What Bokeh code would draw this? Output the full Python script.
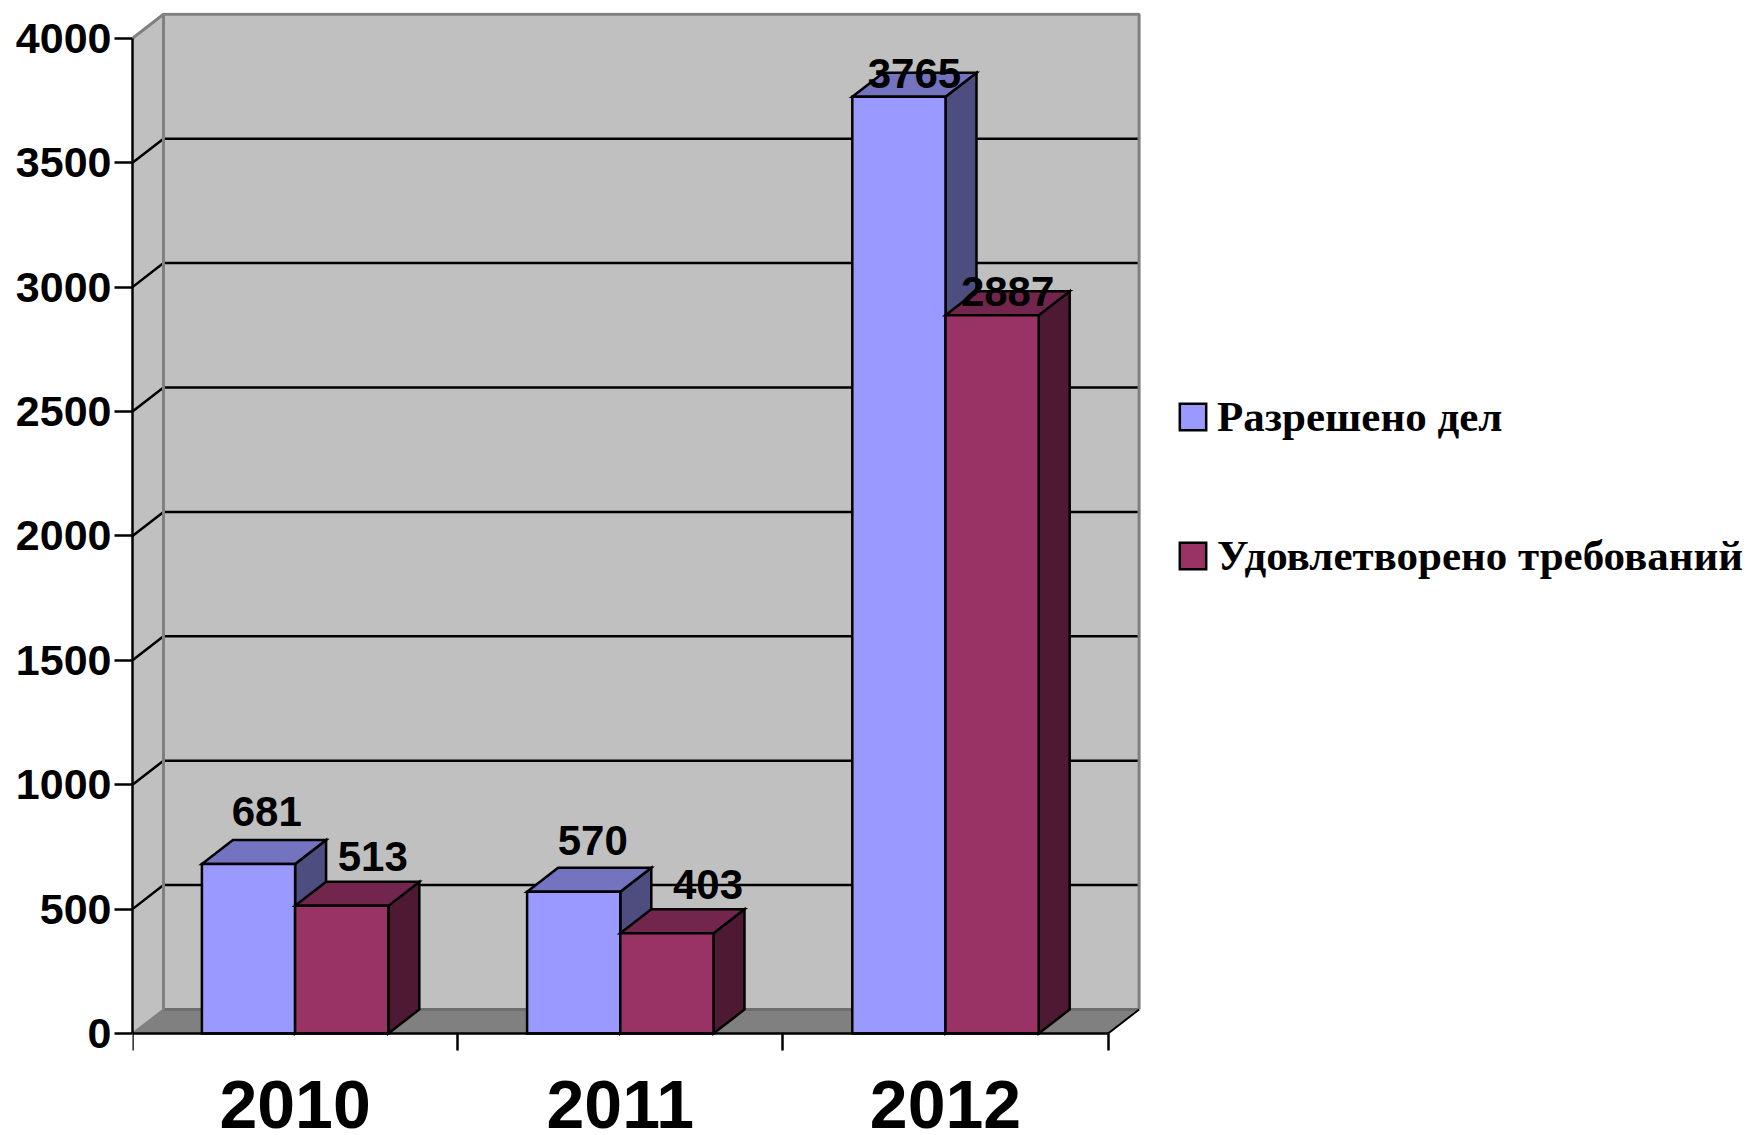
from bokeh.plotting import figure
from bokeh.embed import file_html
from bokeh.resources import INLINE
from bokeh.models import Range1d, FixedTicker, Legend, LegendItem, ColumnDataSource
from bokeh.core.properties import value

years = ["2010", "2011", "2012"]
resolved = [681, 570, 3765]
satisfied = [513, 403, 2887]
y_ticks = [0, 500, 1000, 1500, 2000, 2500, 3000, 3500, 4000]
grid_values = [500, 1000, 1500, 2000, 2500, 3000, 3500]
series_names = ["Разрешено дел", "Удовлетворено требований"]

# style constants
PX_X = 325.2
PX_Y = 0.2488
DX = 31.0 / PX_X
DY = 24.0 / PX_Y
BAR_W = 93.2 / PX_X
GAP = (1 - 2 * BAR_W) / 2
LW = 2.5
SERIF = "Liberation Serif"
SANS = "Liberation Sans"
BASE_FIX = -14.5

p = figure(width=1751, height=1135, output_backend="svg", toolbar_location=None,
           x_range=Range1d(0, 1009 / PX_X),
           y_range=Range1d(-(1135 - 1033) / PX_Y, (1033 - 12) / PX_Y),
           frame_width=1009, frame_height=1123,
           min_border_left=132, min_border_right=0, min_border_top=12, min_border_bottom=0,
           outline_line_color=None, background_fill_color="white")
p.grid.visible = False

top_v = 4000
p.patch([0, DX, DX, 0], [0, DY, top_v + DY, top_v], fill_color="#C0C0C0", line_color=None)
p.patch([DX, 3 + DX, 3 + DX, DX], [DY, DY, top_v + DY, top_v + DY], fill_color="#C0C0C0", line_color=None)
p.patch([0, 3, 3 + DX, DX], [0, 0, DY, DY], fill_color="#808080", line_color=None)

p.multi_line([[0, DX, 3 + DX] for _ in grid_values],
             [[v, v + DY, v + DY] for v in grid_values], line_color="black", line_width=LW)
p.line([DX, 3 + DX], [DY, DY], line_color="#6E6E6E", line_width=3)
p.line([0, DX], [0, DY], line_color="#808080", line_width=2)
p.line([DX, DX], [DY, top_v + DY], line_color="#808080", line_width=3)
p.line([0, DX, 3 + DX, 3 + DX], [top_v, top_v + DY, top_v + DY, DY], line_color="#808080", line_width=3)
p.line([3, 3 + DX], [0, DY], line_color="black", line_width=2)


def bars(vals, offset, front, side, top):
    lefts = [i + GAP + offset * BAR_W for i in range(len(vals))]
    rights = [l + BAR_W for l in lefts]
    p.patches([[r, r + DX, r + DX, r] for r in rights],
              [[0, DY, v + DY, v] for v in vals],
              fill_color=side, line_color="black", line_width=LW, line_join="miter")
    p.patches([[l, r, r + DX, l + DX] for l, r in zip(lefts, rights)],
              [[v, v, v + DY, v + DY] for v in vals],
              fill_color=top, line_color="black", line_width=LW, line_join="miter")
    return p.quad(left=lefts, right=rights, bottom=0, top=vals,
                  fill_color=front, line_color="black", line_width=LW, line_join="miter")


r1 = bars(resolved, 0, "#9999FF", "#4D4D80", "#7373BF")
r2 = bars(satisfied, 1, "#993366", "#4D1933", "#73264D")

# data labels (hand-placed in the reference: pixel offsets per label)
label_dx = [2.8, 15.5, 3.6, 25.6, 0.0, 0.0]
label_dy = [-38, -35, -36.7, -34.4, -9, -9.7]
xs, ys, txt = [], [], []
for i in range(3):
    xs.append(i + GAP + BAR_W / 2 + DX / 2)
    ys.append(resolved[i])
    txt.append(str(resolved[i]))
    xs.append(i + GAP + 1.5 * BAR_W + DX / 2)
    ys.append(satisfied[i])
    txt.append(str(satisfied[i]))
src = ColumnDataSource(dict(x=xs, y=ys, t=txt, dx=label_dx,
                            dy=[d + BASE_FIX for d in label_dy]))
p.text(x="x", y="y", text="t", source=src, x_offset="dx", y_offset="dy",
       text_font=value(SANS), text_font_style="bold", text_font_size="42px",
       text_align="center", text_baseline="alphabetic", text_color="black")

# axes
xa = p.xaxis[0]
xa.fixed_location = 0
xa.bounds = (0, 3)
xa.ticker = FixedTicker(ticks=[i + 0.5 for i in range(3)], minor_ticks=[0, 1, 2, 3])
xa.major_label_overrides = {i + 0.5: years[i] for i in range(3)}
xa.major_tick_out = 0
xa.major_tick_in = 0
xa.minor_tick_out = 17
xa.minor_tick_in = 0
xa.minor_tick_line_color = "black"
xa.minor_tick_line_width = LW
xa.axis_line_color = "black"
xa.axis_line_width = LW
xa.major_label_standoff = 30
xa.major_label_text_line_height = 1.0
xa.major_label_text_font = SANS
xa.major_label_text_font_style = "bold"
xa.major_label_text_font_size = "68px"
xa.major_label_text_color = "black"

ya = p.yaxis[0]
ya.bounds = (0, 4000)
ya.ticker = FixedTicker(ticks=y_ticks)
ya.major_tick_out = 18
ya.major_tick_in = 0
ya.minor_tick_out = 0
ya.minor_tick_in = 0
ya.major_tick_line_color = "black"
ya.major_tick_line_width = LW
ya.axis_line_color = "black"
ya.axis_line_width = LW
ya.major_label_standoff = 3
ya.major_label_text_font = SANS
ya.major_label_text_font_style = "bold"
ya.major_label_text_font_size = "43px"
ya.major_label_text_color = "black"

legend = Legend(items=[LegendItem(label=series_names[0], renderers=[r1]),
                       LegendItem(label=series_names[1], renderers=[r2])],
                location=(35, 555), orientation="vertical",
                glyph_width=33, glyph_height=33, label_standoff=8,
                spacing=90, padding=0, margin=0,
                border_line_color=None, background_fill_alpha=0,
                label_text_font=SERIF, label_text_font_style="bold",
                label_text_font_size="43px", label_text_color="black")
p.add_layout(legend, "right")

open("out.html", "w").write(file_html(p, INLINE))
